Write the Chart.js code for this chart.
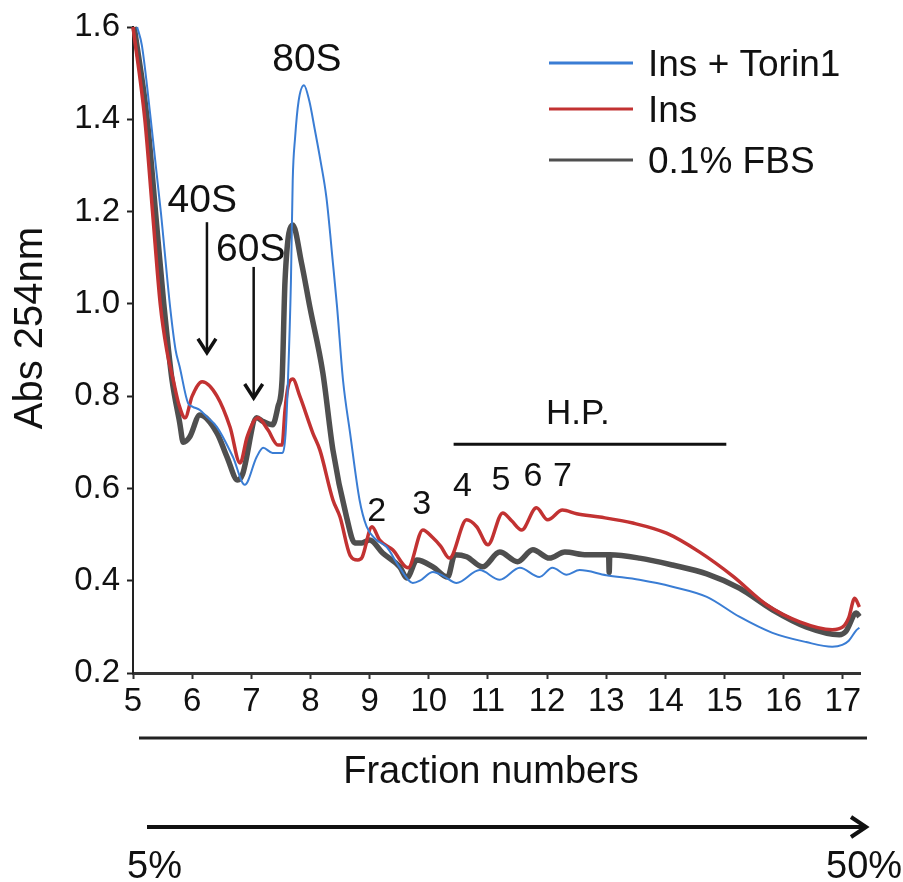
<!DOCTYPE html>
<html>
<head>
<meta charset="utf-8">
<script src="https://cdn.jsdelivr.net/npm/chart.js@4.4.1/dist/chart.umd.min.js"></script>
<style>
  html, body { margin: 0; padding: 0; background: #fff; }
  #wrap { width: 903px; height: 882px; }
</style>
</head>
<body>
<div id="wrap"><canvas id="profile" width="903" height="882"></canvas></div>
<script>
// axis ticks
const xTicks = [5, 6, 7, 8, 9, 10, 11, 12, 13, 14, 15, 16, 17];
const yTicks = [0.2, 0.4, 0.6, 0.8, 1.0, 1.2, 1.4, 1.6];

const seriesNames = ['Ins + Torin1', 'Ins', '0.1% FBS'];

// Ins + Torin1 (blue)
const torinX = [5.07, 5.15, 5.3, 5.47, 5.63, 5.72, 5.79, 5.93, 6.01, 6.13, 6.25, 6.42, 6.69, 6.89, 7.09, 7.2, 7.36, 7.52, 7.58, 7.62, 7.67, 7.7, 7.74, 7.8, 7.89, 7.98, 8.07, 8.17, 8.27, 8.38, 8.45, 8.55, 8.67, 8.83, 8.95, 9.1, 9.29, 9.5, 9.73, 9.85, 10.07, 10.25, 10.47, 10.86, 11.2, 11.54, 11.87, 12.09, 12.33, 12.55, 13.0, 13.56, 14.12, 14.7, 15.25, 15.81, 16.38, 16.82, 16.99, 17.1, 17.23, 17.28];
const torinY = [1.6, 1.56, 1.4, 1.2, 0.99, 0.9, 0.863, 0.785, 0.777, 0.77, 0.755, 0.733, 0.668, 0.608, 0.668, 0.688, 0.677, 0.677, 0.72, 0.835, 1.05, 1.268, 1.36, 1.44, 1.474, 1.44, 1.38, 1.31, 1.23, 1.088, 0.993, 0.835, 0.72, 0.575, 0.517, 0.49, 0.473, 0.43, 0.395, 0.4, 0.419, 0.41, 0.395, 0.423, 0.402, 0.428, 0.408, 0.428, 0.413, 0.423, 0.412, 0.402, 0.387, 0.365, 0.322, 0.287, 0.267, 0.257, 0.261, 0.27, 0.293, 0.298];

// Ins (red)
const insX = [5.0, 5.2, 5.33, 5.46, 5.57, 5.68, 5.78, 5.88, 6.0, 6.17, 6.42, 6.64, 6.81, 6.93, 7.11, 7.28, 7.45, 7.52, 7.57, 7.62, 7.7, 7.82, 8.04, 8.16, 8.38, 8.5, 8.67, 8.8, 8.87, 9.04, 9.17, 9.39, 9.65, 9.9, 10.07, 10.2, 10.35, 10.64, 10.81, 11.0, 11.25, 11.4, 11.57, 11.82, 12.01, 12.26, 12.5, 12.89, 13.45, 14.02, 14.58, 15.14, 15.71, 16.27, 16.82, 17.0, 17.1, 17.2, 17.28];
const insY = [1.6, 1.4, 1.2, 1.0, 0.9, 0.835, 0.78, 0.753, 0.8, 0.831, 0.8, 0.733, 0.655, 0.712, 0.753, 0.727, 0.694, 0.694, 0.77, 0.82, 0.837, 0.80, 0.72, 0.683, 0.575, 0.538, 0.455, 0.445, 0.45, 0.517, 0.488, 0.467, 0.428, 0.51, 0.493, 0.475, 0.449, 0.532, 0.517, 0.478, 0.547, 0.53, 0.51, 0.558, 0.532, 0.553, 0.545, 0.538, 0.525, 0.503, 0.462, 0.41, 0.348, 0.311, 0.294, 0.3, 0.32, 0.362, 0.343];

// 0.1% FBS (grey)
const fbsX = [5.02, 5.24, 5.38, 5.52, 5.6, 5.66, 5.79, 5.85, 5.96, 6.13, 6.42, 6.59, 6.77, 6.85, 7.09, 7.2, 7.36, 7.45, 7.52, 7.57, 7.7, 7.85, 7.99, 8.21, 8.38, 8.61, 8.75, 8.87, 9.0, 9.22, 9.51, 9.63, 9.8, 10.07, 10.32, 10.44, 10.64, 10.91, 11.2, 11.5, 11.76, 12.04, 12.3, 12.67, 13.04, 13.05, 13.06, 13.56, 14.12, 14.7, 15.25, 15.81, 16.38, 16.94, 17.05, 17.23, 17.28];
const fbsY = [1.6, 1.4, 1.2, 1.0, 0.9, 0.835, 0.742, 0.7, 0.712, 0.759, 0.72, 0.668, 0.618, 0.63, 0.753, 0.745, 0.738, 0.777, 0.835, 1.05, 1.171, 1.088, 0.993, 0.85, 0.683, 0.538, 0.482, 0.482, 0.488, 0.46, 0.43, 0.406, 0.445, 0.43, 0.408, 0.456, 0.452, 0.43, 0.462, 0.441, 0.467, 0.449, 0.462, 0.456, 0.456, 0.418, 0.456, 0.449, 0.434, 0.415, 0.384, 0.337, 0.3, 0.283, 0.29, 0.33, 0.322];

const FONT = '"Liberation Sans", Arial, sans-serif';
const colors = ['#3a7dd4', '#c23232', '#4f4f4f'];
const widths = [2, 3.5, 5.5];

function toPoints(xs, ys) {
    return xs.map((x, i) => ({ x: x, y: ys[i] }));
}

// labels inside the plot, placed in data units
const peakNotes = [
    { text: '80S', x: 7.94, y: 1.535, size: 39 },
    { text: '40S', x: 6.17, y: 1.23, size: 39 },
    { text: '60S', x: 6.99, y: 1.123, size: 39 },
    { text: '2', x: 9.12, y: 0.556, size: 34 },
    { text: '3', x: 9.88, y: 0.571, size: 34 },
    { text: '4', x: 10.57, y: 0.61, size: 34 },
    { text: '5', x: 11.22, y: 0.623, size: 34 },
    { text: '6', x: 11.76, y: 0.631, size: 34 },
    { text: '7', x: 12.26, y: 0.631, size: 34 },
    { text: 'H.P.', x: 12.52, y: 0.766, size: 35 }
];
const downArrows = [
    { x: 6.25, from: 1.177, to: 0.894 },
    { x: 7.04, from: 1.08, to: 0.796 }
];

// text drawn with its cap centre at y
function capText(ctx, txt, x, y, size, align) {
    ctx.font = size + 'px ' + FONT;
    ctx.textAlign = align || 'center';
    ctx.textBaseline = 'alphabetic';
    ctx.fillText(txt, x, y + size * 0.358);
}

const extras = {
    id: 'extras',
    afterDraw(chart) {
        const { ctx } = chart;
        const xs = chart.scales.x, ys = chart.scales.y;
        ctx.save();
        ctx.fillStyle = '#111';
        ctx.strokeStyle = '#111';
        ctx.lineCap = 'butt';

        peakNotes.forEach(n => {
            capText(ctx, n.text, xs.getPixelForValue(n.x), ys.getPixelForValue(n.y), n.size);
        });

        // 40S / 60S arrows
        downArrows.forEach(a => {
            const px = xs.getPixelForValue(a.x);
            const top = ys.getPixelForValue(a.from);
            const tip = ys.getPixelForValue(a.to);
            ctx.lineWidth = 2.5;
            ctx.beginPath();
            ctx.moveTo(px, top);
            ctx.lineTo(px, tip - 2);
            ctx.stroke();
            ctx.lineWidth = 3.5;
            ctx.beginPath();
            ctx.moveTo(px - 9, tip - 14);
            ctx.lineTo(px, tip);
            ctx.lineTo(px + 9, tip - 14);
            ctx.stroke();
        });

        // H.P. bar
        ctx.lineWidth = 3;
        ctx.beginPath();
        ctx.moveTo(xs.getPixelForValue(10.42), ys.getPixelForValue(0.696));
        ctx.lineTo(xs.getPixelForValue(15.03), ys.getPixelForValue(0.696));
        ctx.stroke();

        // bar under the tick labels
        ctx.strokeStyle = '#222';
        ctx.lineWidth = 3;
        ctx.beginPath();
        ctx.moveTo(139, 738);
        ctx.lineTo(867, 738);
        ctx.stroke();

        capText(ctx, 'Fraction numbers', 491, 769, 38);

        // gradient arrow
        ctx.strokeStyle = '#111';
        ctx.lineWidth = 4;
        ctx.beginPath();
        ctx.moveTo(147, 827);
        ctx.lineTo(864, 827);
        ctx.stroke();
        ctx.beginPath();
        ctx.moveTo(851, 817);
        ctx.lineTo(866, 827);
        ctx.lineTo(851, 837);
        ctx.stroke();

        capText(ctx, '5%', 127, 864, 38, 'left');
        capText(ctx, '50%', 826, 864, 38, 'left');

        // y axis title
        ctx.save();
        ctx.translate(28, 328);
        ctx.rotate(-Math.PI / 2);
        capText(ctx, 'Abs 254nm', 0, 0, 40);
        ctx.restore();

        // legend
        const rows = [63, 109, 160];
        chart.data.datasets.forEach((ds, i) => {
            ctx.strokeStyle = ds.borderColor;
            ctx.lineWidth = 3;
            ctx.beginPath();
            ctx.moveTo(549, rows[i]);
            ctx.lineTo(633, rows[i]);
            ctx.stroke();
            ctx.fillStyle = '#111';
            capText(ctx, ds.label, 648, rows[i], 37, 'left');
        });
        ctx.restore();
    }
};

const ctx = document.getElementById('profile').getContext('2d');
const chart = new Chart(ctx, {
    type: 'line',
    data: {
        datasets: [
            { label: seriesNames[0], data: toPoints(torinX, torinY) },
            { label: seriesNames[1], data: toPoints(insX, insY) },
            { label: seriesNames[2], data: toPoints(fbsX, fbsY) }
        ].map((d, i) => Object.assign(d, {
            borderColor: colors[i],
            borderWidth: widths[i],
            pointRadius: 0,
            cubicInterpolationMode: 'monotone',
            fill: false,
            clip: false,
            borderJoinStyle: 'round'
        }))
    },
    options: {
        responsive: false,
        animation: false,
        devicePixelRatio: 1,
        layout: { padding: { top: 27, right: 43, left: 0, bottom: 0 } },
        plugins: { legend: { display: false }, tooltip: { enabled: false } },
        scales: {
            x: {
                type: 'linear',
                min: 5,
                max: 17.29,
                afterBuildTicks: s => { s.ticks = xTicks.map(v => ({ value: v })); },
                afterFit: s => { s.height = 209; },
                border: { display: true, color: '#333', width: 3 },
                grid: { display: true, drawOnChartArea: false, drawTicks: true, tickLength: 6, tickWidth: 2, color: '#333' },
                ticks: { color: '#111', padding: 3, maxRotation: 0, autoSkip: false, font: { family: FONT, size: 33 } }
            },
            y: {
                type: 'linear',
                min: 0.2,
                max: 1.6,
                afterBuildTicks: s => { s.ticks = yTicks.map(v => ({ value: v })); },
                afterFit: s => { s.width = 133; },
                border: { display: true, color: '#222', width: 2 },
                grid: { display: true, drawOnChartArea: false, drawTicks: true, tickLength: 6, tickWidth: 2, color: '#222' },
                ticks: { color: '#111', padding: 7, callback: v => v.toFixed(1), font: { family: FONT, size: 33 } }
            }
        }
    },
    plugins: [extras]
});
</script>
</body>
</html>
